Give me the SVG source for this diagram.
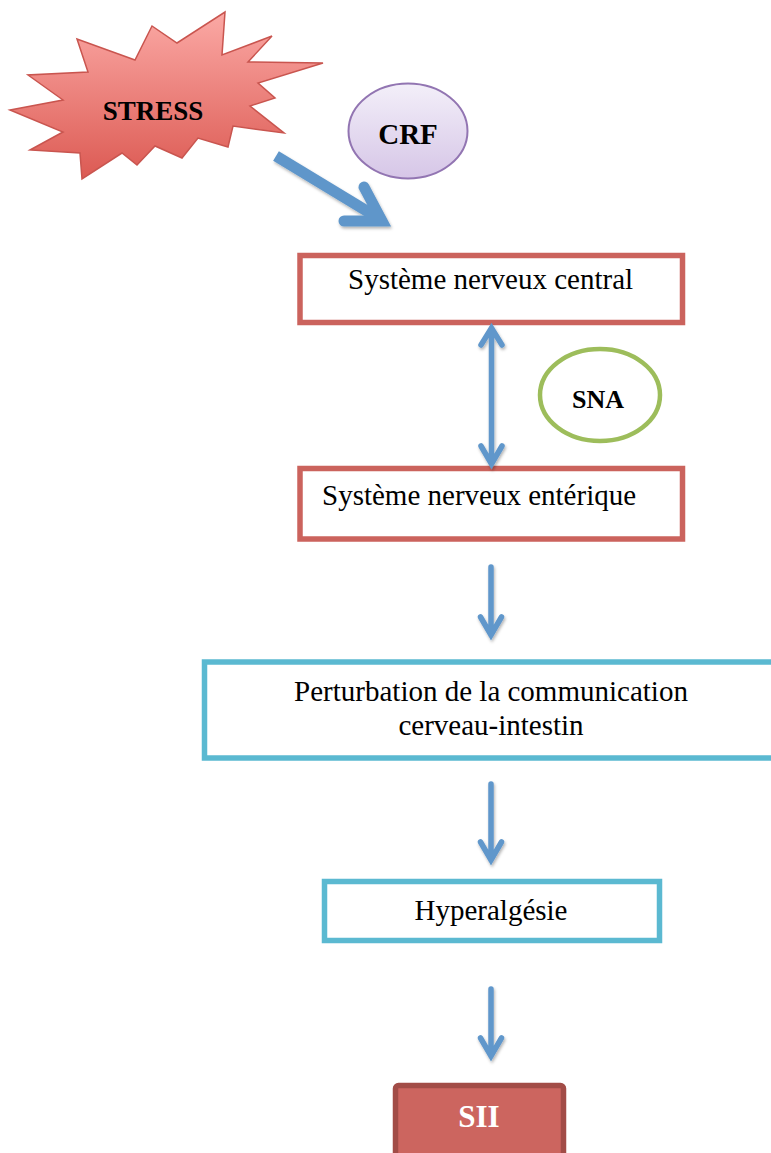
<svg xmlns="http://www.w3.org/2000/svg" width="771" height="1153" viewBox="0 0 771 1153">
<defs>
<linearGradient id="gStar" x1="0" y1="0" x2="0" y2="1">
<stop offset="0" stop-color="#fba9a5"/>
<stop offset="1" stop-color="#dc5a53"/>
</linearGradient>
<linearGradient id="gCrf" x1="0" y1="0" x2="0" y2="1">
<stop offset="0" stop-color="#f3eff9"/>
<stop offset="1" stop-color="#d6c6e7"/>
</linearGradient>
<filter id="sh" x="-50%" y="-50%" width="200%" height="200%">
<feDropShadow dx="1" dy="2" stdDeviation="1.5" flood-color="#000" flood-opacity="0.3"/>
</filter>
<style>
.lbl{font-family:"Liberation Serif","Times New Roman",serif;font-size:29px;fill:#000}
.bold{font-family:"Liberation Serif","Times New Roman",serif;font-weight:bold;fill:#000}
.redbox{fill:#fff;stroke:#cb635d;stroke-width:5.5}
.cyanbox{fill:#fff;stroke:#5bb9d1;stroke-width:5.5}
.arr{fill:none;stroke:#6097cb;stroke-width:5.5;stroke-linecap:round;stroke-linejoin:miter}
</style>
</defs>
<rect width="771" height="1153" fill="#fff"/>

<g id="stress">
<polygon points="10,110 63,100 28,75 88,72 77,39 135,60 152,26 177,43 225,12 222,55 272,36 248,62 323,63 258,83 275,98 250,106 284,133 233,126 228,147 198,138 182,158 155,146 137,165 122,153 82,179 80,153 30,150 63,132" fill="url(#gStar)" stroke="#c9554f" stroke-width="1.5" stroke-linejoin="miter"/>
<text class="bold" x="153" y="120" font-size="27" text-anchor="middle">STRESS</text>
</g>

<g id="crf">
<ellipse cx="408" cy="131" rx="59.5" ry="47.5" fill="url(#gCrf)" stroke="#9275b2" stroke-width="2"/>
<text class="bold" x="408" y="144" font-size="29" text-anchor="middle">CRF</text>
</g>

<g id="snc">
<rect class="redbox" x="300" y="255.5" width="382.5" height="67"/>
<text class="lbl" x="348" y="289">Système nerveux central</text>
</g>

<g id="sna">
<ellipse cx="600" cy="395" rx="60" ry="46" fill="#fff" stroke="#9dbd5b" stroke-width="4.5"/>
<text class="bold" x="598" y="408" font-size="26" text-anchor="middle">SNA</text>
</g>

<g id="sne">
<rect class="redbox" x="300" y="468.5" width="382.5" height="70.5"/>
<text class="lbl" x="322" y="505">Système nerveux entérique</text>
</g>

<g id="perturbation">
<rect class="cyanbox" x="204.5" y="662" width="590" height="96"/>
<text class="lbl" x="491" y="701" text-anchor="middle">Perturbation de la communication</text>
<text class="lbl" x="491" y="735" text-anchor="middle">cerveau-intestin</text>
</g>

<g id="hyperalgesie">
<rect class="cyanbox" x="324.5" y="881.5" width="335" height="59"/>
<text class="lbl" x="491" y="920" text-anchor="middle">Hyperalgésie</text>
</g>

<g id="sii">
<rect x="395.5" y="1085.5" width="168" height="90" rx="3" fill="#cc655f" stroke="#a24c47" stroke-width="5.5"/>
<text class="bold" x="479" y="1127" font-size="31" text-anchor="middle" fill="#fff" style="fill:#fff">SII</text>
</g>

<g id="connectors" filter="url(#sh)">
<line x1="276" y1="156" x2="380" y2="219" stroke="#5f96ca" stroke-width="11" stroke-linecap="butt"/>
<polyline points="364,187 382,221 344,221" fill="none" stroke="#5f96ca" stroke-width="11" stroke-linecap="round" stroke-linejoin="miter" stroke-miterlimit="6"/>
<path class="arr" d="M491.5,330 V463 M481,345 L491.5,328 L502,345 M481,446 L491.5,464 L502,446"/>
<path class="arr" d="M491,567 V635 M480.5,617 L491,635 L501.5,617"/>
<path class="arr" d="M491,784 V860 M480.5,842 L491,860 L501.5,842"/>
<path class="arr" d="M491,989 V1056 M480.5,1038 L491,1056 L501.5,1038"/>
</g>
</svg>
